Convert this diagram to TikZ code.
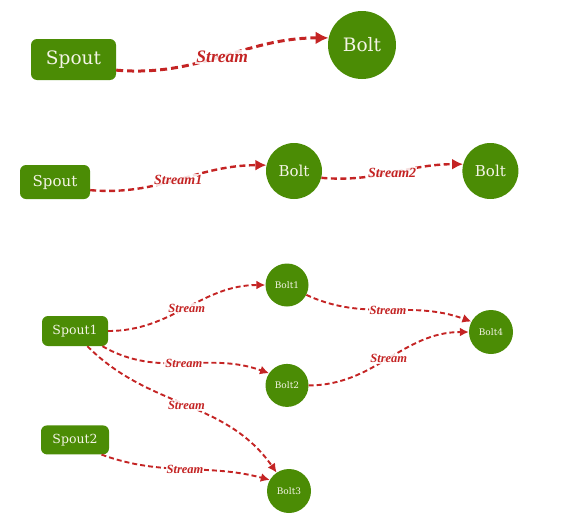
\documentclass[tikz,border=0pt]{standalone}
\usepackage{fontspec}
\setmainfont{DejaVu Serif}
\newfontfamily\streamfont{Liberation Serif}
\usetikzlibrary{arrows.meta,positioning}
\definecolor{StormGreen}{HTML}{4B8C05}
\definecolor{StreamRed}{HTML}{C42424}
\definecolor{NodeText}{HTML}{F4F4E6}

\begin{document}
\begin{tikzpicture}[
  x=1pt,y=1pt,
  spout/.style={fill=StormGreen,rounded corners=6pt,text=NodeText,inner sep=0pt},
  bolt/.style={circle,fill=StormGreen,text=NodeText,inner sep=0pt},
  stream/.style={StreamRed,-{Latex[length=#1,width=#1]}},
  lbl/.style={text=StreamRed,font=\streamfont\bfseries\itshape\fontsize{#1}{#1}\selectfont,
    fill=white,fill opacity=0.85,text opacity=1,inner sep=1pt}
]
  \useasboundingbox (0,0) rectangle (562,-514);

  % one spout, one bolt
  \node[spout,minimum width=85pt,minimum height=41pt,font=\fontsize{18.5}{18.5}\selectfont] (spout) at (73.5,-59.5) {Spout};
  \node[bolt,minimum size=68pt,font=\fontsize{18.5}{18.5}\selectfont] (bolt) at (362,-45) {Bolt};
  \draw[stream=13pt,line width=3pt,dash pattern=on 7pt off 4pt] (spout.-14) to[out=-5,in=180] node[lbl=17.5] {Stream} (bolt.168);

  % a chain
  \node[spout,minimum width=70pt,minimum height=34pt,font=\fontsize{15}{15}\selectfont] (spoutC) at (55,-182) {Spout};
  \node[bolt,minimum size=56pt,font=\fontsize{15}{15}\selectfont] (boltC) at (294,-171) {Bolt};
  \node[bolt,minimum size=56pt,font=\fontsize{15}{15}\selectfont,right=140pt of boltC] (boltD) {Bolt};
  \draw[stream=11pt,line width=2.4pt,dash pattern=on 6pt off 3.5pt] (spoutC.-13) to[out=-5,in=180] node[lbl=14] {Stream1} (boltC.168);
  \draw[stream=11pt,line width=2.4pt,dash pattern=on 6pt off 3.5pt] (boltC.-14) to[out=-5,in=180] node[lbl=14] {Stream2} (boltD.166);

  % two spouts, four bolts
  \node[spout,minimum width=66pt,minimum height=30pt,font=\fontsize{12.5}{12.5}\selectfont] (spout1) at (75,-331) {Spout1};
  \node[spout,minimum width=68pt,minimum height=29pt,font=\fontsize{12.5}{12.5}\selectfont,below=79pt of spout1] (spout2) {Spout2};
  \node[bolt,minimum size=43pt,font=\fontsize{9}{9}\selectfont] (bolt1) at (287,-285) {Bolt1};
  \node[bolt,minimum size=43pt,font=\fontsize{9}{9}\selectfont,below=57pt of bolt1] (bolt2) {Bolt2};
  \node[bolt,minimum size=44pt,font=\fontsize{9}{9}\selectfont] (bolt3) at (289,-491) {Bolt3};
  \node[bolt,minimum size=44pt,font=\fontsize{9}{9}\selectfont] (bolt4) at (491,-332) {Bolt4};

  \begin{scope}[line width=1.9pt,dash pattern=on 5pt off 3pt]
    \draw[stream=9pt] (spout1.east) to[out=0,in=180] node[lbl=12.5] {Stream} (bolt1.west);
    \draw[stream=9pt] (spout1.-29) to[out=-30,in=160] node[lbl=12.5] {Stream} (bolt2.146);
    \draw[stream=9pt] (spout1.-51) to[out=-45,in=125] node[lbl=12.5] {Stream} (bolt3.124);
    \draw[stream=9pt] (spout2.-29) to[out=-20,in=165] node[lbl=12.5] {Stream} (bolt3.150);
    \draw[stream=9pt] (bolt1.-27) to[out=-25,in=160] node[lbl=12.5] {Stream} (bolt4.152);
    \draw[stream=9pt] (bolt2.east) to[out=0,in=180] node[lbl=12.5] {Stream} (bolt4.west);
  \end{scope}
\end{tikzpicture}
\end{document}
